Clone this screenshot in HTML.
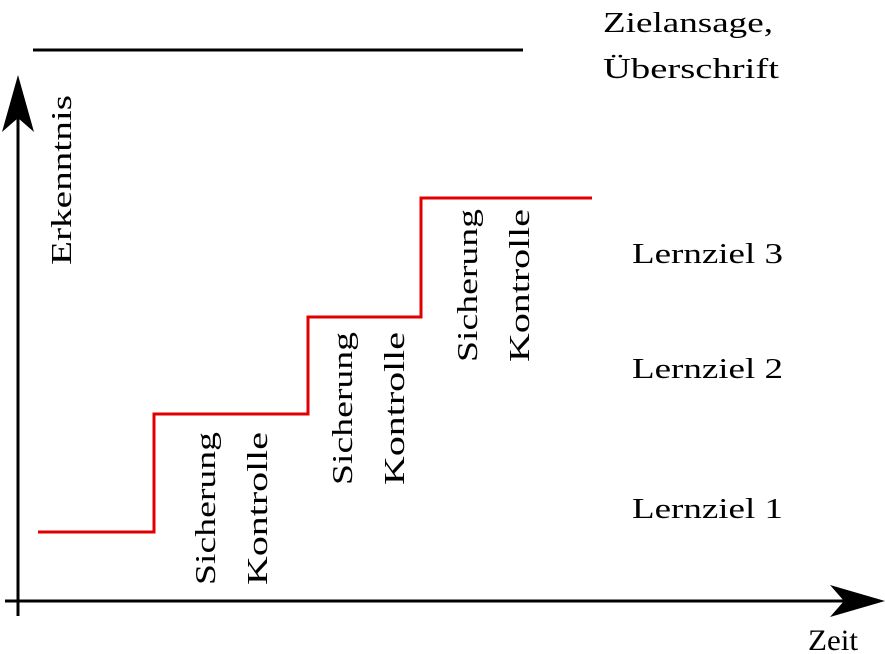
<!DOCTYPE html>
<html><head><meta charset="utf-8"><style>
html,body{margin:0;padding:0;background:#fff;}
svg{display:block;}
text{font-family:"Liberation Serif","DejaVu Serif",serif;font-size:28px;fill:#000;}
</style></head><body>
<svg width="885" height="654" viewBox="0 0 885 654" xmlns="http://www.w3.org/2000/svg">
<line x1="33" y1="50" x2="523" y2="50" stroke="#000" stroke-width="3"/>
<line x1="18" y1="110" x2="18" y2="616" stroke="#000" stroke-width="3"/>
<path d="M18,75 L34,132 L18,118 L2,132 Z" fill="#000"/>
<line x1="5" y1="601" x2="860" y2="601" stroke="#000" stroke-width="3"/>
<path d="M885,601 L830,585 L844,601 L830,617 Z" fill="#000"/>
<polyline points="38,532 154,532 154,414 308,414 308,317 421,317 421,198 592,198" fill="none" stroke="#e00000" stroke-width="3"/>
<text x="603" y="32" textLength="170" lengthAdjust="spacingAndGlyphs">Zielansage,</text>
<text x="603" y="78" textLength="176" lengthAdjust="spacingAndGlyphs">Überschrift</text>
<text x="632" y="263" textLength="151" lengthAdjust="spacingAndGlyphs">Lernziel 3</text>
<text x="632" y="378" textLength="151" lengthAdjust="spacingAndGlyphs">Lernziel 2</text>
<text x="632" y="518" textLength="151" lengthAdjust="spacingAndGlyphs">Lernziel 1</text>
<text x="808" y="650" textLength="50" lengthAdjust="spacingAndGlyphs" style="font-size:30px">Zeit</text>
<text transform="translate(71,265) rotate(-90)" textLength="170" lengthAdjust="spacingAndGlyphs">Erkenntnis</text>
<text transform="translate(215,585) rotate(-90)" textLength="153" lengthAdjust="spacingAndGlyphs">Sicherung</text>
<text transform="translate(267,585) rotate(-90)" textLength="153" lengthAdjust="spacingAndGlyphs">Kontrolle</text>
<text transform="translate(352,485) rotate(-90)" textLength="153" lengthAdjust="spacingAndGlyphs">Sicherung</text>
<text transform="translate(404,485) rotate(-90)" textLength="153" lengthAdjust="spacingAndGlyphs">Kontrolle</text>
<text transform="translate(477,362) rotate(-90)" textLength="153" lengthAdjust="spacingAndGlyphs">Sicherung</text>
<text transform="translate(529,362) rotate(-90)" textLength="153" lengthAdjust="spacingAndGlyphs">Kontrolle</text>
</svg>
</body></html>
